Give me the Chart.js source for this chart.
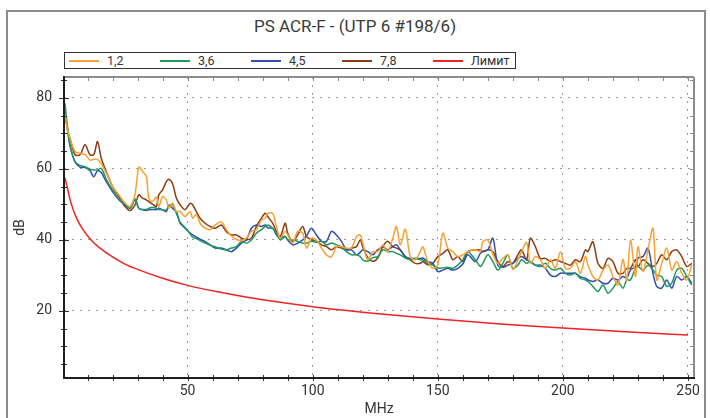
<!DOCTYPE html>
<html>
<head>
<meta charset="utf-8">
<script src="https://cdn.jsdelivr.net/npm/chart.js@4.4.1/dist/chart.umd.min.js"></script>
<style>
body { margin: 0; background: #fff; font-family: Roboto, sans-serif; }
#wrap { position: relative; width: 710px; height: 418px; overflow: hidden; }
#frame { position: absolute; left: 6px; top: 10px; width: 700px; height: 440px; border: 2px solid #8c8c8c; box-sizing: border-box; }
#title { position: absolute; left: 0; top: 16px; width: 710px; text-align: center; font-size: 17px; color: #3a3a3a; }
#legend { position: absolute; left: 64px; top: 52px; width: 452px; height: 17px; border: 1px solid #333; box-sizing: border-box; }
#legend .item { position: absolute; top: 0; height: 15px; font-size: 12.5px; color: #333; line-height: 15px; }
#legend .item i { position: absolute; left: 0; top: 7px; width: 30px; height: 2px; }
#legend .item span { position: absolute; left: 38px; white-space: nowrap; }
canvas { position: absolute; left: 0; top: 0; }
</style>
</head>
<body>
<div id="wrap">
  <div id="frame"></div>
  <div id="title">PS ACR-F - (UTP 6 #198/6)</div>
  <div id="legend"></div>
  <canvas id="myChart" width="710" height="418"></canvas>
</div>
<script>
// frequency points (MHz) shared by the measured pairs
const freqs = [
  1, 2, 3, 5, 7, 9, 11, 12.5, 14, 15.5,
  17.5, 20, 22.5, 25, 27, 29, 30.5, 32, 33.5, 34.5,
  36, 37.5, 38.5, 40, 41.5, 42.5, 44, 45.5, 47, 49,
  51, 52, 53.5, 55, 57, 59, 61, 63.5, 65.5, 67.5,
  69.5, 71.5, 73.5, 75.5, 77.5, 79.5, 81, 82, 84, 85.5,
  87, 89, 90, 92, 94, 96, 97.5, 99.5, 101.5, 103.5,
  105.5, 107.5, 109.5, 111.5, 113.5, 115.5, 117.5, 119, 120, 122,
  124, 126, 128, 130, 132, 133.5, 135, 137, 139, 141,
  143, 144, 146, 148, 150, 152, 154, 156, 158, 160,
  162, 165, 167, 168, 170, 172, 174, 176, 178, 180,
  182, 183.5, 185.5, 187, 189, 191, 193, 195, 197, 199,
  201, 203, 205, 207, 209, 210, 212, 214, 216, 218,
  220, 222, 224, 225.5, 227, 229, 230, 232, 234, 236,
  237.5, 239.5, 241.5, 243.5, 245.5, 247.5, 249.5, 251.5
];

const pair12 = [
  75.5, 71, 68.6, 64.9, 64.4, 64.0, 62.5, 62.7, 62.7, 61.5,
  58.8, 55.0, 52.7, 50.4, 49.4, 53.0, 60.5, 59.3, 57.9, 51.7,
  50.8, 52.1, 49.4, 52.2, 51.3, 48.9, 50.4, 48.0, 48.0, 46.6,
  48.0, 46.1, 47.2, 44.7, 43.3, 42.9, 44.2, 45.1, 42.9, 41.1,
  40.2, 39.8, 40.5, 42.4, 42.9, 45.6, 46.1, 47.5, 47.5, 43.8,
  40.5, 42.4, 41.4, 39.1, 42.4, 41.9, 37.7, 40.5, 40.0, 37.7,
  35.8, 35.3, 38.1, 38.1, 37.7, 37.7, 40.9, 41.4, 39.1, 34.4,
  36.7, 36.7, 38.6, 36.7, 40.5, 43.8, 38.6, 43.0, 35.3, 34.4,
  36.7, 38.1, 34.0, 32.0, 33.0, 41.9, 37.7, 36.7, 35.3, 35.8,
  36.7, 37.2, 36.7, 39.5, 40.0, 36.0, 33.4, 34.8, 35.8, 31.7,
  34.4, 36.7, 39.3, 33.4, 35.3, 34.4, 32.0, 34.4, 32.0, 36.7,
  32.0, 32.0, 33.9, 30.6, 35.3, 32.9, 29.7, 28.7, 31.5, 32.9,
  29.7, 27.3, 34.5, 28.7, 40.0, 29.7, 38.1, 31.1, 37.2, 43.3,
  28.7, 33.4, 37.7, 31.5, 33.9, 30.6, 28.7, 32.9
];

const pair36 = [
  78.5, 72, 66.8, 62.0, 61.0, 60.6, 59.9, 59.7, 59.7, 60.2,
  57.1, 54.1, 51.5, 50.2, 48.9, 51.5, 48.9, 48.6, 48.6, 48.9,
  49.2, 48.9, 48.6, 48.5, 48.4, 49.6, 49.9, 47.5, 45.0, 43.5,
  41.7, 40.8, 40.4, 39.8, 39.1, 38.5, 38.1, 37.4, 37.2, 37.7,
  38.1, 39.6, 39.1, 40.0, 41.9, 42.9, 43.8, 44.2, 43.3, 41.9,
  40.0, 40.9, 40.0, 40.0, 39.6, 39.1, 39.1, 39.6, 39.3, 39.6,
  38.6, 39.1, 38.6, 38.1, 36.7, 35.8, 35.8, 35.3, 34.4, 34.0,
  35.0, 35.3, 37.2, 36.7, 36.7, 36.2, 35.8, 34.9, 34.4, 34.8,
  34.4, 34.4, 33.4, 32.9, 32.1, 32.1, 32.3, 32.0, 32.9, 34.4,
  36.7, 34.4, 32.5, 33.4, 35.8, 33.9, 31.5, 33.4, 35.8, 32.0,
  32.9, 34.4, 33.4, 33.9, 32.9, 32.5, 33.4, 32.0, 31.5, 32.0,
  30.6, 30.1, 30.6, 29.2, 28.7, 28.3, 26.9, 25.5, 27.3, 25.0,
  26.4, 28.3, 26.4, 28.7, 28.7, 32.0, 32.5, 31.5, 32.9, 31.5,
  30.1, 29.7, 26.9, 27.8, 31.5, 32.0, 29.7, 27.3
];

const pair45 = [
  76, 71, 66.5, 62.0, 60.5, 60.4, 59.5, 57.8, 59.5, 59.0,
  56.4, 53.6, 51.3, 49.9, 48.9, 51.3, 48.9, 48.5, 48.3, 48.5,
  48.6, 48.5, 48.9, 48.5, 48.0, 49.8, 48.9, 48.0, 44.7, 43.3,
  41.9, 41.4, 40.8, 40.2, 39.5, 38.6, 37.7, 37.7, 37.2, 36.7,
  37.7, 39.1, 40.0, 43.3, 44.2, 43.8, 44.2, 43.4, 43.3, 41.4,
  40.5, 41.0, 40.0, 38.6, 39.1, 40.0, 41.1, 43.3, 41.4, 39.6,
  39.6, 42.4, 41.4, 39.6, 37.2, 37.2, 35.8, 36.5, 37.2, 36.7,
  35.8, 37.2, 38.1, 37.2, 38.1, 38.6, 37.2, 35.3, 34.8, 34.8,
  34.8, 34.9, 33.9, 33.4, 31.1, 31.5, 32.0, 31.5, 32.0, 33.2,
  35.8, 33.9, 36.2, 36.7, 37.2, 40.5, 32.9, 32.3, 32.9, 33.4,
  34.8, 35.3, 34.4, 33.9, 32.9, 32.9, 32.0, 30.1, 29.7, 30.6,
  30.6, 30.6, 30.6, 29.6, 29.2, 28.7, 28.3, 28.7, 27.8, 27.8,
  29.2, 28.7, 29.7, 29.2, 31.5, 32.5, 34.9, 35.3, 37.7, 30.6,
  26.9, 26.4, 28.7, 26.4, 29.7, 28.7, 29.7, 27.8
];

const pair78 = [
  76, 71, 68.6, 64.0, 64.0, 66.8, 64.0, 64.0, 67.7, 63.0,
  59.2, 55.0, 52.2, 49.4, 48.3, 49.9, 52.7, 51.8, 51.3, 50.8,
  50.1, 49.4, 52.7, 54.1, 56.4, 57.1, 55.8, 51.8, 49.9, 48.5,
  50.3, 49.9, 48.0, 46.1, 44.7, 43.8, 43.3, 44.2, 42.3, 41.4,
  41.4, 40.5, 40.0, 40.5, 43.8, 46.1, 47.5, 46.6, 44.7, 42.4,
  40.9, 44.7, 41.9, 39.6, 41.4, 43.8, 41.0, 40.0, 39.6, 38.6,
  38.1, 37.2, 38.1, 37.7, 37.2, 37.7, 38.1, 40.0, 38.1, 35.0,
  34.0, 34.9, 38.1, 39.6, 38.1, 37.7, 37.2, 35.3, 34.4, 33.4,
  33.4, 33.9, 33.0, 33.4, 35.3, 36.2, 37.2, 34.4, 35.3, 33.9,
  36.7, 37.2, 37.2, 36.7, 37.2, 36.7, 33.9, 32.5, 33.9, 33.4,
  35.8, 37.2, 34.4, 40.5, 38.1, 34.8, 34.8, 33.9, 34.4, 33.9,
  33.4, 32.9, 34.4, 33.9, 37.2, 36.7, 39.5, 33.4, 32.0, 34.8,
  33.9, 30.6, 30.6, 32.0, 32.0, 34.4, 32.5, 34.4, 33.4, 32.5,
  33.4, 35.8, 34.4, 36.7, 37.2, 35.3, 32.5, 33.4
];

// limit curve
const limitFreqs = [1, 1.5, 2, 3, 4, 5, 6, 8, 10, 12.5, 15, 20, 25, 30, 40, 50, 62.5, 75, 100, 125, 150, 175, 200, 225, 250];
const limitVals = [57.5, 56.0, 54.5, 51.4, 49.1, 47.2, 45.6, 43.1, 41.2, 39.2, 37.7, 35.2, 33.2, 31.7, 29.2, 27.2, 25.3, 23.7, 21.2, 19.3, 17.7, 16.3, 15.2, 14.1, 13.2];

const xTicks = [50, 100, 150, 200, 250];
const yTicks = [20, 40, 60, 80];
const xMinor = [10, 20, 30, 40, 50, 60, 70, 80, 90, 100, 110, 120, 130, 140, 150, 160, 170, 180, 190, 200, 210, 220, 230, 240, 250];
const yMinor = [5, 10, 15, 20, 25, 30, 35, 40, 45, 50, 55, 60, 65, 70, 75, 80, 85];

const series = [
  { label: '1,2', values: pair12, color: '#f7a232' },
  { label: '3,6', values: pair36, color: '#1f9a5c' },
  { label: '4,5', values: pair45, color: '#2e4fb3' },
  { label: '7,8', values: pair78, color: '#8b3c14' }
];
const limitColor = '#ee2323';

// legend row above the plot
const $legend = document.querySelector('#legend');
const legendItems = series.map(s => [s.label, s.color]).concat([['Лимит', limitColor]]);
legendItems.forEach((it, i) => {
  let d = document.createElement('div');
  d.className = 'item';
  d.style.left = (4 + i * 91) + 'px';
  d.innerHTML = '<i style="background:' + it[1] + '"></i><span>' + it[0] + '</span>';
  $legend.appendChild(d);
});

let datasets = series.map(s => ({
  label: s.label,
  data: freqs.map((f, i) => ({ x: f, y: s.values[i] })),
  borderColor: s.color,
  borderWidth: 1.5,
  pointRadius: 0,
  tension: 0.3
}));
datasets.push({
  label: 'Лимит',
  data: limitFreqs.map((f, i) => ({ x: f, y: limitVals[i] })),
  borderColor: limitColor,
  borderWidth: 1.5,
  pointRadius: 0,
  cubicInterpolationMode: 'monotone'
});

// plot box and the small tick marks on all four sides
const axisBox = {
  id: 'axisBox',
  afterDraw(chart) {
    const { ctx, chartArea: a, scales: { x, y } } = chart;
    ctx.save();
    ctx.lineWidth = 1;
    const seg = (x1, y1, x2, y2, c) => {
      ctx.strokeStyle = c;
      ctx.beginPath(); ctx.moveTo(x1, y1); ctx.lineTo(x2, y2); ctx.stroke();
    };
    for (let v of xMinor) {
      let px = Math.round(x.getPixelForValue(v)) + 0.5;
      seg(px, a.bottom - 3, px, a.bottom + 3, '#333');
      seg(px, a.top, px, a.top + 4, '#888');
    }
    for (let v of yMinor) {
      let py = Math.round(y.getPixelForValue(v)) + 0.5;
      let len = v % 20 === 0 ? 5 : 3;
      seg(a.left - len, py, a.left + len, py, '#333');
      seg(a.right - 4, py, a.right, py, '#888');
    }
    ctx.lineWidth = 2;
    seg(a.left, a.top, a.right, a.top, '#8c8c8c');
    seg(a.right, a.top, a.right, a.bottom, '#8c8c8c');
    seg(a.left, a.top - 1, a.left, a.bottom + 1, '#1e1e1e');
    seg(a.left, a.bottom, a.right + 1, a.bottom, '#1e1e1e');
    ctx.restore();
  }
};

const tickFont = { family: 'Roboto', size: 14 };

new Chart(document.getElementById('myChart'), {
  type: 'line',
  data: { datasets: datasets },
  options: {
    responsive: false,
    animation: false,
    layout: { padding: { top: 77, right: 16, left: 0, bottom: 0 } },
    plugins: { legend: { display: false }, title: { display: false }, tooltip: { enabled: false } },
    scales: {
      x: {
        type: 'linear',
        min: 0.6,
        max: 252.4,
        afterBuildTicks: s => { s.ticks = xTicks.map(v => ({ value: v })); },
        afterFit: s => { s.height = 40; },
        ticks: { font: tickFont, color: '#333', padding: 5, maxRotation: 0 },
        grid: { color: '#9a9a9a', lineWidth: 1, drawTicks: false },
        border: { display: false, dash: [2, 6] },
        title: { display: true, text: 'MHz', font: tickFont, color: '#333', padding: { top: 0, bottom: 0 } }
      },
      y: {
        min: 1.1,
        max: 85.9,
        afterBuildTicks: s => { s.ticks = yTicks.map(v => ({ value: v })); },
        afterFit: s => { s.width = 64; },
        ticks: { font: tickFont, color: '#333', padding: 12 },
        grid: { color: '#9a9a9a', lineWidth: 1, drawTicks: false },
        border: { display: false, dash: [2, 6] },
        title: { display: true, text: 'dB', font: tickFont, color: '#333', padding: { top: 12, bottom: 0 } }
      }
    }
  },
  plugins: [axisBox]
});
</script>
</body>
</html>
